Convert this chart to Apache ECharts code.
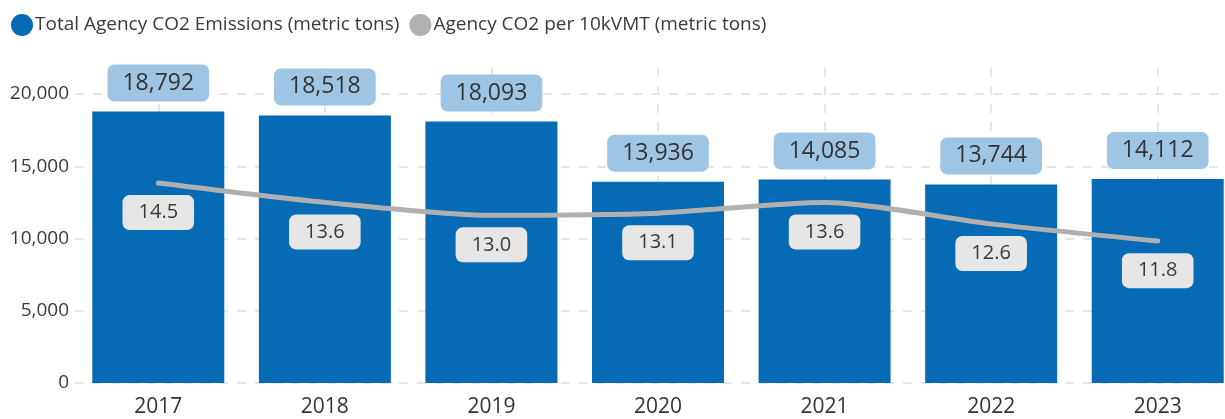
<!DOCTYPE html>
<html lang="en">
  <head>
    <meta charset="UTF-8" />
    <title>Agency CO2 Emissions</title>
    <script src="https://cdn.jsdelivr.net/npm/echarts@6/dist/echarts.min.js"></script>
    <style>
      html, body { margin: 0; padding: 0; background: #fff; overflow: hidden; }
      /* plot runs past the right edge of the picture, so the canvas is wider than the window */
      #chart { width: 1260px; height: 419px; }
    </style>
  </head>
  <body>
    <div id="chart"></div>
    <script>
      const years = ["2017", "2018", "2019", "2020", "2021", "2022", "2023"];
      const totalEmissions = [18792, 18518, 18093, 13936, 14085, 13744, 14112];
      const perVmt = [14.5, 13.6, 13.0, 13.1, 13.6, 12.6, 11.8];

      const font = "'Open Sans', 'Noto Sans', sans-serif";
      const gridColor = "#dedede";

      const myChart = echarts.init(document.getElementById("chart"));

      const option = {
        animation: false,
        textStyle: { fontFamily: font },
        legend: {
          left: 6,
          top: 9,
          itemWidth: 22,
          itemHeight: 22,
          itemGap: 10,
          icon: "circle",
          textStyle: { fontSize: 19, color: "#3a3a3a", fontFamily: font, padding: [0, 0, 0, -3] },
          data: ["Total Agency CO2 Emissions (metric tons)", "Agency CO2 per 10kVMT (metric tons)"],
        },
        grid: { left: 75, top: 68, width: 1166, height: 315 },
        xAxis: {
          type: "category",
          data: years,
          axisLine: { show: false },
          axisTick: { show: false },
          axisLabel: { fontSize: 21, color: "#333", margin: 14 },
          splitLine: {
            show: true,
            alignWithLabel: true,
            lineStyle: { color: gridColor, width: 1.5, type: [9, 9] },
          },
        },
        yAxis: [
          {
            type: "value",
            min: 0,
            max: 21800,
            interval: 5000,
            axisLabel: {
              fontSize: 19,
              color: "#3a3a3a",
              margin: 6,
              showMaxLabel: false,
              formatter: (v) => v.toLocaleString("en-US"),
            },
            splitLine: {
              lineStyle: {
                color: [gridColor, gridColor, gridColor, gridColor, gridColor, "rgba(0,0,0,0)"],
                width: 1.5,
                type: [9, 9],
              },
            },
          },
          {
            type: "value",
            min: 5.2,
            max: 19.85,
            show: false,
            splitLine: { show: false },
          },
        ],
        series: [
          {
            name: "Total Agency CO2 Emissions (metric tons)",
            type: "bar",
            data: totalEmissions,
            barWidth: 132,
            itemStyle: { color: "#066ab5" },
            label: {
              show: true,
              position: "top",
              distance: 10,
              fontSize: 23,
              lineHeight: 25,
              color: "#333",
              backgroundColor: "#9fc5e4",
              borderRadius: 7,
              padding: [6, 15],
              formatter: (p) => p.value.toLocaleString("en-US"),
            },
          },
          {
            name: "Agency CO2 per 10kVMT (metric tons)",
            type: "line",
            yAxisIndex: 1,
            data: perVmt,
            smooth: 0.25,
            symbol: "circle",
            symbolSize: 0.1,
            itemStyle: { color: "#b0b0b0" },
            lineStyle: { color: "#b0b0b0", width: 5, cap: "round" },
            label: {
              show: true,
              position: "bottom",
              distance: 12,
              fontSize: 20,
              lineHeight: 23,
              color: "#3a3a3a",
              backgroundColor: "#e6e6e6",
              borderRadius: 7,
              padding: [6, 16],
              formatter: (p) => p.value.toFixed(1),
            },
          },
        ],
      };

      myChart.setOption(option);
    </script>
  </body>
</html>
